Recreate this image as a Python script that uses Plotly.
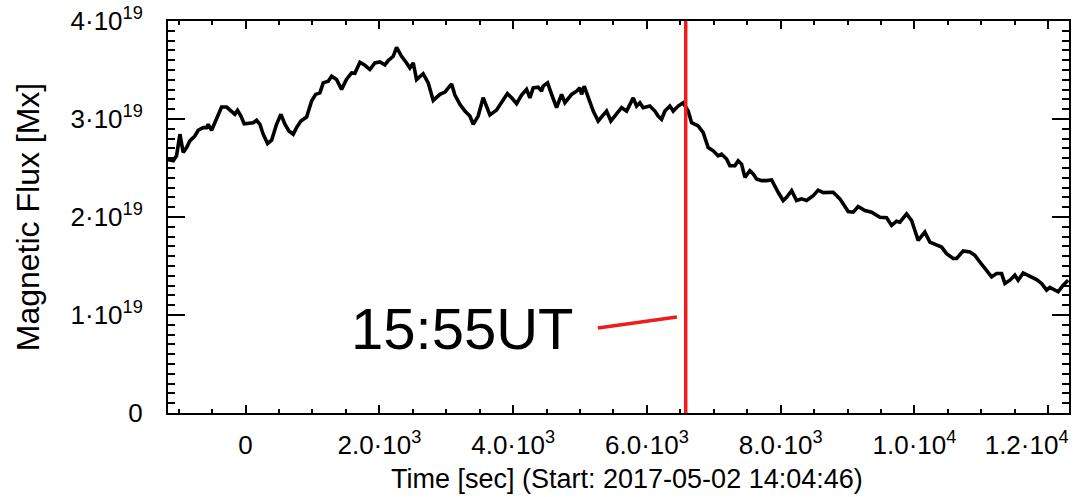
import plotly.graph_objects as go

# Time since start [s]
time_s = [-1162, -1082, -1032, -982, -933, -882, -833, -758, -709, -634, -583, -559, -508, -434, -359, -284,
          -209, -160, -120, -70, -21, 64, 114, 164, 214, 263, 329, 389, 463, 528, 588, 647, 712, 762, 827, 912,
          987, 1047, 1111, 1160, 1235, 1286, 1360, 1435, 1510, 1585, 1634, 1709, 1784, 1858, 1933, 2008, 2083,
          2132, 2207, 2257, 2332, 2407, 2456, 2506, 2556, 2655, 2730, 2805, 2905, 2980, 3080, 3129, 3204, 3279,
          3353, 3403, 3477, 3552, 3652, 3752, 3827, 3914, 3977, 4051, 4126, 4201, 4250, 4300, 4374, 4425, 4449,
          4515, 4575, 4649, 4724, 4774, 4874, 4948, 4998, 5023, 5062, 5147, 5197, 5271, 5346, 5397, 5461, 5546,
          5621, 5696, 5795, 5845, 5895, 5944, 6044, 6119, 6168, 6219, 6269, 6343, 6393, 6467, 6542, 6617, 6668,
          6766, 6841, 6916, 6991, 7065, 7116, 7191, 7240, 7315, 7364, 7415, 7465, 7539, 7589, 7639, 7714, 7789,
          7864, 7962, 8037, 8088, 8163, 8237, 8312, 8387, 8486, 8560, 8635, 8785, 8885, 9009, 9084, 9158, 9259,
          9359, 9483, 9583, 9658, 9732, 9782, 9882, 9957, 10055, 10155, 10230, 10330, 10405, 10480, 10579, 10629,
          10728, 10828, 10903, 10978, 11078, 11153, 11227, 11302, 11352, 11426, 11501, 11550, 11625, 11725, 11825,
          11900, 11975, 12024, 12148, 12223, 12298]

# Magnetic flux in units of 1e19 Mx
flux_1e19 = [2.584, 2.574, 2.624, 2.845, 2.658, 2.709, 2.777, 2.827, 2.885, 2.912, 2.912, 2.946, 2.885, 3.013,
             3.122, 3.122, 3.081, 3.048, 3.088, 3.030, 2.952, 2.962, 2.962, 2.987, 2.946, 2.845, 2.749, 2.784,
             2.946, 3.048, 2.946, 2.878, 2.845, 2.912, 2.980, 3.020, 3.183, 3.251, 3.267, 3.369, 3.386, 3.437,
             3.403, 3.302, 3.406, 3.470, 3.467, 3.579, 3.548, 3.505, 3.572, 3.582, 3.553, 3.596, 3.640, 3.731,
             3.640, 3.572, 3.521, 3.572, 3.403, 3.462, 3.369, 3.190, 3.251, 3.274, 3.358, 3.244, 3.149, 3.081,
             3.030, 2.946, 3.030, 3.218, 3.041, 3.091, 3.173, 3.259, 3.216, 3.157, 3.244, 3.302, 3.216, 3.318,
             3.325, 3.284, 3.335, 3.369, 3.251, 3.115, 3.251, 3.166, 3.251, 3.284, 3.318, 3.251, 3.335, 3.166,
             3.081, 2.980, 3.048, 3.081, 2.980, 3.048, 3.115, 3.081, 3.216, 3.132, 3.166, 3.115, 3.132, 3.081,
             3.030, 2.997, 3.081, 3.132, 3.081, 3.132, 3.166, 3.081, 2.962, 2.929, 2.861, 2.709, 2.675, 2.624,
             2.642, 2.591, 2.523, 2.523, 2.574, 2.540, 2.404, 2.472, 2.439, 2.388, 2.371, 2.371, 2.378, 2.252,
             2.168, 2.201, 2.269, 2.168, 2.185, 2.168, 2.218, 2.274, 2.249, 2.252, 2.185, 2.056, 2.049, 2.107,
             2.066, 2.049, 1.998, 1.992, 1.914, 1.957, 1.947, 2.032, 1.964, 1.761, 1.846, 1.744, 1.711, 1.693,
             1.626, 1.576, 1.576, 1.653, 1.643, 1.609, 1.541, 1.457, 1.389, 1.423, 1.423, 1.322, 1.355, 1.406,
             1.355, 1.429, 1.396, 1.362, 1.322, 1.254, 1.281, 1.237, 1.305, 1.355]

x_tickvals = [0, 2000, 4000, 6000, 8000, 10000, 12000]
x_ticktext = ["0", "2.0·10<sup>3</sup>", "4.0·10<sup>3</sup>", "6.0·10<sup>3</sup>",
              "8.0·10<sup>3</sup>", "1.0·10<sup>4</sup>", "1.2·10<sup>4</sup>"]
y_tickvals = [0, 1e19, 2e19, 3e19, 4e19]
y_ticktext = ["0", "1·10<sup>19</sup>", "2·10<sup>19</sup>", "3·10<sup>19</sup>", "4·10<sup>19</sup>"]

x_title = "Time [sec] (Start: 2017-05-02 14:04:46)"
y_title = "Magnetic Flux [Mx]"

event_time = 6580           # 15:55 UT
label_text = "15:55UT"
label_pos = (3235, 0.858e19)
pointer_start = (5267, 0.868e19)
pointer_end = (6448, 0.980e19)

x_range = [-1160, 12310]
y_range = [0, 4e19]

flux = [v * 1e19 for v in flux_1e19]

font_main = "Liberation Sans, Arial, sans-serif"
red = "#ee1c1c"

# keep the last x label inside the frame, as in the original figure
nb = "\u00a0"
x_ticktext_shown = x_ticktext[:-1] + [x_ticktext[-1] + nb * 6]

fig = go.Figure()
fig.add_trace(go.Scatter(x=time_s, y=flux, mode="lines",
                         line=dict(color="black", width=3.6), showlegend=False, hoverinfo="skip"))

fig.add_shape(type="line", xref="x", yref="paper", x0=event_time, x1=event_time, y0=0, y1=1,
              line=dict(color=red, width=3.5))
fig.add_shape(type="line", xref="x", yref="y", x0=pointer_start[0], y0=pointer_start[1],
              x1=pointer_end[0], y1=pointer_end[1], line=dict(color=red, width=3.5))
fig.add_annotation(x=label_pos[0], y=label_pos[1], text=label_text, showarrow=False,
                   font=dict(family=font_main, size=58, color="black"),
                   xanchor="center", yanchor="middle")
fig.add_annotation(xref="paper", yref="paper", x=0.5094, y=-0.168, text=x_title, showarrow=False,
                   font=dict(family=font_main, size=27, color="black"),
                   xanchor="center", yanchor="middle")

fig.update_layout(
    width=1090, height=497,
    margin=dict(l=168, r=21, t=21, b=84, pad=0, autoexpand=False),
    paper_bgcolor="white", plot_bgcolor="white",
    font=dict(family=font_main, size=26, color="black"),
    xaxis=dict(
        range=x_range, tickmode="array", tickvals=x_tickvals, ticktext=x_ticktext_shown,
        ticks="inside", ticklen=8, tickwidth=2, tickcolor="black",
        showline=True, linewidth=2, linecolor="black", mirror="ticks", automargin=False,
        showgrid=False, zeroline=False, ticklabelstandoff=8, ticklabeloverflow="allow",
        tickfont=dict(family=font_main, size=26),
        minor=dict(tickmode="linear", tick0=0, dtick=500, ticks="inside", ticklen=4,
                   tickwidth=2, tickcolor="black", showgrid=False),
    ),
    yaxis=dict(
        range=y_range, tickmode="array", tickvals=y_tickvals, ticktext=y_ticktext,
        ticks="inside", ticklen=17, tickwidth=2, tickcolor="black",
        showline=True, linewidth=2, linecolor="black", mirror="ticks", automargin=False,
        showgrid=False, zeroline=False, ticklabelstandoff=18, ticklabeloverflow="allow",
        tickfont=dict(family=font_main, size=26),
        minor=dict(tickmode="linear", tick0=0, dtick=1e18, ticks="inside", ticklen=7,
                   tickwidth=2, tickcolor="black", showgrid=False),
        title=dict(text=y_title, standoff=21,
                   font=dict(family=font_main, size=32)),
    ),
)

fig.write_html("out.html")
